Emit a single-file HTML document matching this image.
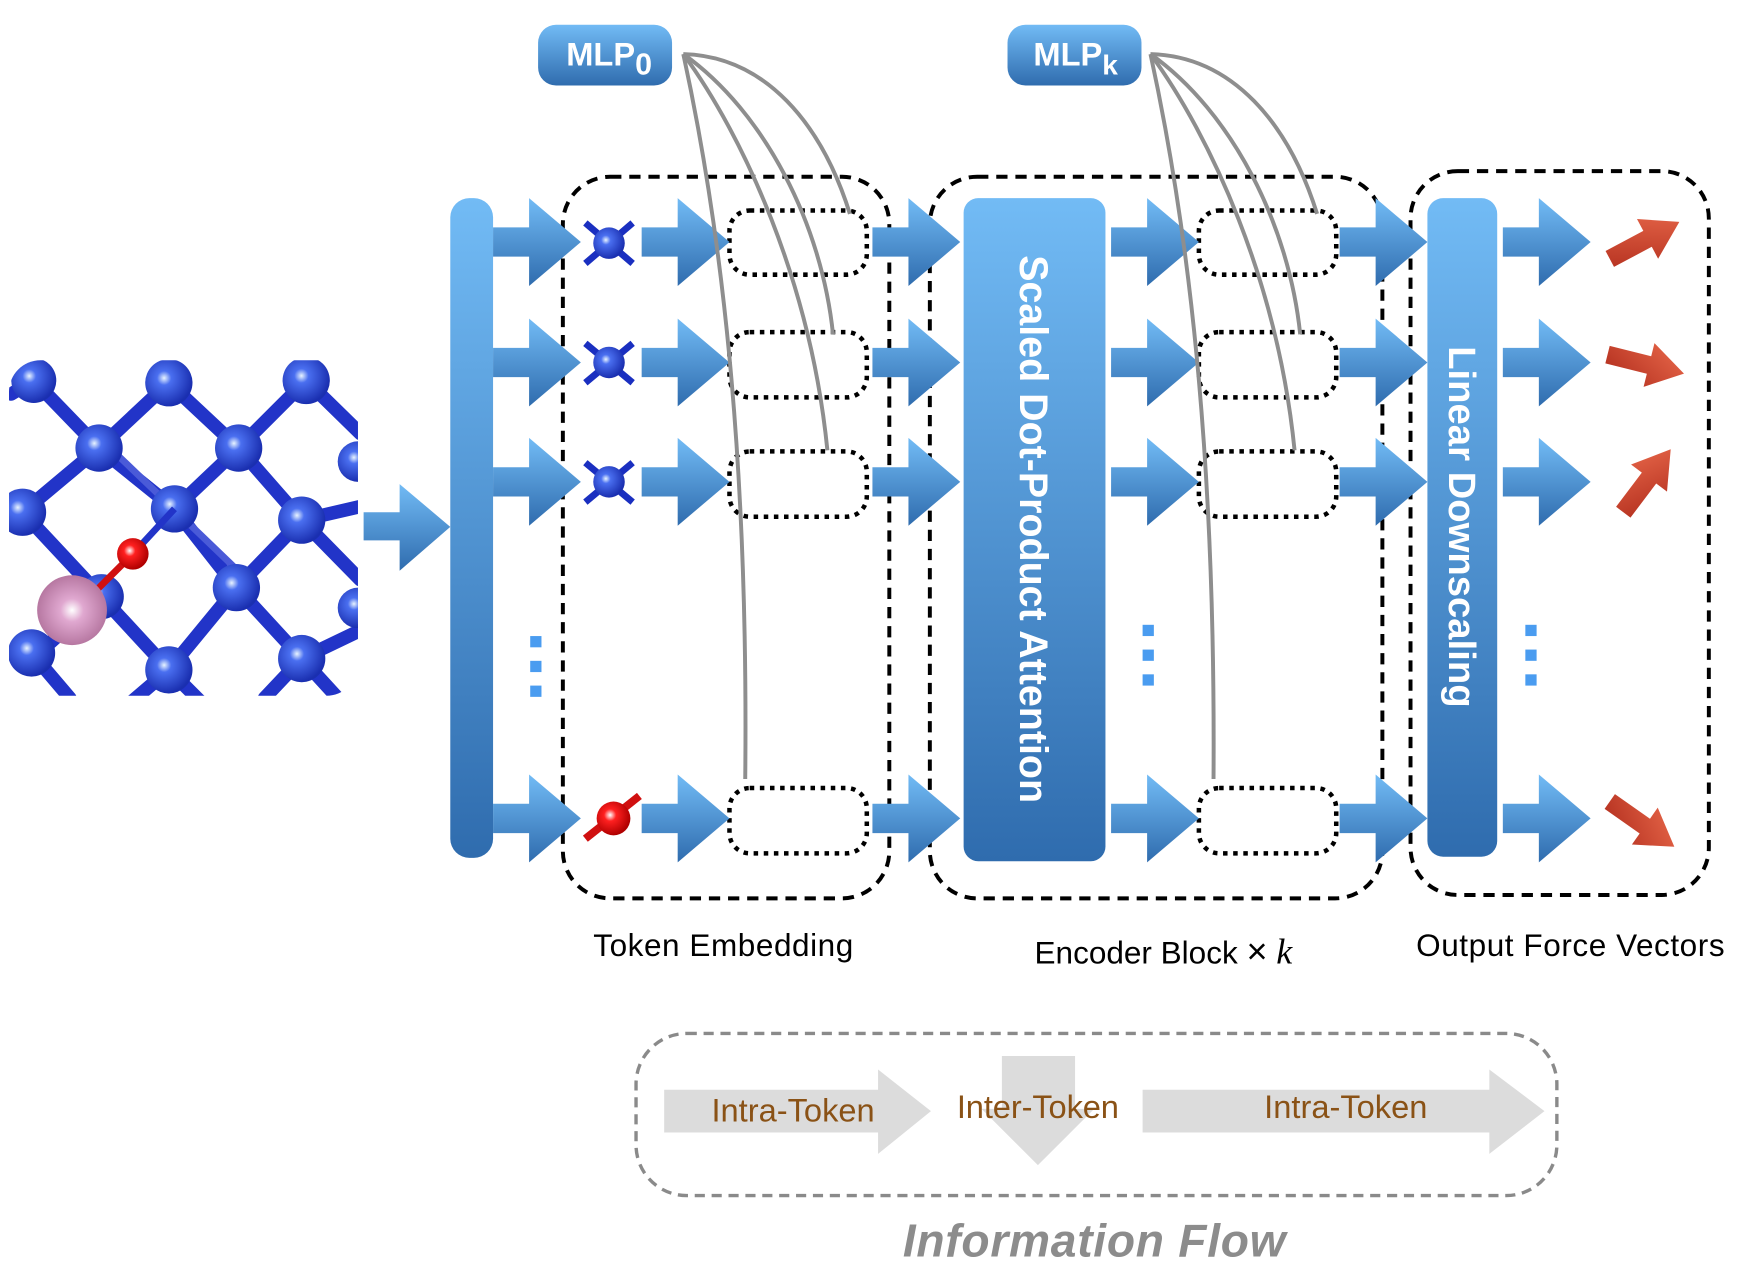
<!DOCTYPE html>
<html><head><meta charset="utf-8"><style>html,body{margin:0;padding:0;background:#fff}svg{display:block}</style></head><body>
<svg width="1764" height="1280" viewBox="0 0 1567 1137" preserveAspectRatio="none" xmlns="http://www.w3.org/2000/svg">
<defs>
<linearGradient id="bg" x1="0" y1="0" x2="0" y2="1"><stop offset="0" stop-color="#72bbf5"/><stop offset="1" stop-color="#2f6cae"/></linearGradient>
<linearGradient id="rg" x1="1" y1="0" x2="0" y2="1"><stop offset="0" stop-color="#ea6a4c"/><stop offset="1" stop-color="#b02c1c"/></linearGradient>
<radialGradient id="ab" cx="0.4" cy="0.4" r="0.6"><stop offset="0" stop-color="#e8f4ff"/><stop offset="0.25" stop-color="#4a6ff0"/><stop offset="1" stop-color="#1a2fb0"/></radialGradient>
<radialGradient id="ar" cx="0.4" cy="0.4" r="0.6"><stop offset="0" stop-color="#fff"/><stop offset="0.3" stop-color="#ff2020"/><stop offset="1" stop-color="#b00000"/></radialGradient>
<radialGradient id="ap" cx="0.5" cy="0.5" r="0.55"><stop offset="0" stop-color="#fff"/><stop offset="0.3" stop-color="#e0a8d0"/><stop offset="1" stop-color="#b0709a"/></radialGradient>
<clipPath id="cc"><rect x="8" y="320" width="310" height="298" rx="28"/></clipPath>
<symbol id="arr" viewBox="0 0 78 78" overflow="visible"><path d="M0 26 H32 V0 L78 39 L32 78 V52 H0 Z" fill="url(#bg)"/></symbol>
</defs>

<g clip-path="url(#cc)">
<g stroke="#2234c8" stroke-width="12" stroke-linecap="round">
<line x1="30" y1="338" x2="88" y2="398"/><line x1="150" y1="340" x2="88" y2="398"/><line x1="150" y1="340" x2="212" y2="398"/><line x1="272" y1="338" x2="212" y2="398"/>
<line x1="88" y1="398" x2="20" y2="455"/><line x1="88" y1="398" x2="155" y2="452"/><line x1="212" y1="398" x2="155" y2="452"/><line x1="212" y1="398" x2="268" y2="462"/>
<line x1="155" y1="452" x2="210" y2="522"/><line x1="268" y1="462" x2="210" y2="522"/><line x1="20" y1="455" x2="90" y2="530"/><line x1="90" y1="530" x2="150" y2="595"/>
<line x1="210" y1="522" x2="150" y2="595"/><line x1="210" y1="522" x2="268" y2="585"/><line x1="268" y1="462" x2="320" y2="515"/><line x1="272" y1="338" x2="320" y2="385"/>
<line x1="268" y1="585" x2="300" y2="620"/><line x1="150" y1="595" x2="180" y2="625"/><line x1="150" y1="595" x2="115" y2="625"/><line x1="28" y1="580" x2="62" y2="620"/>
<line x1="268" y1="585" x2="235" y2="620"/><line x1="320" y1="450" x2="268" y2="462"/><line x1="20" y1="455" x2="0" y2="470"/><line x1="30" y1="338" x2="10" y2="350"/>
<line x1="320" y1="560" x2="268" y2="585"/><line x1="90" y1="530" x2="40" y2="575"/>
</g>
<line x1="100" y1="400" x2="225" y2="520" stroke="#4a5ad8" stroke-width="6"/>
<g fill="url(#ab)">
<circle cx="30" cy="338" r="20"/><circle cx="150" cy="340" r="21"/><circle cx="272" cy="338" r="21"/><circle cx="88" cy="398" r="21"/><circle cx="212" cy="398" r="21"/>
<circle cx="20" cy="455" r="21"/><circle cx="155" cy="452" r="21"/><circle cx="268" cy="462" r="21"/><circle cx="210" cy="522" r="21"/><circle cx="90" cy="530" r="20"/>
<circle cx="150" cy="595" r="21"/><circle cx="268" cy="585" r="21"/><circle cx="28" cy="580" r="21"/><circle cx="318" cy="410" r="18"/><circle cx="318" cy="540" r="18"/>
</g>
<line x1="155" y1="452" x2="118" y2="492" stroke="#2234c8" stroke-width="6"/>
<line x1="118" y1="492" x2="70" y2="540" stroke="#d01010" stroke-width="6"/>
<circle cx="118" cy="492" r="14" fill="url(#ar)"/>
<circle cx="64" cy="542" r="31" fill="url(#ap)"/>
</g>

<path d="M323 455 H355 V430 L400 468 L355 507 V480 H323 Z" fill="url(#bg)"/>

<rect x="500" y="157" width="290" height="641" rx="42" fill="none" stroke="#000" stroke-width="3.5" stroke-dasharray="10,7"/>
<rect x="826" y="157" width="402" height="641" rx="42" fill="none" stroke="#000" stroke-width="3.5" stroke-dasharray="10,7"/>
<rect x="1253" y="152" width="265" height="643" rx="42" fill="none" stroke="#000" stroke-width="3.5" stroke-dasharray="10,7"/>

<rect x="400" y="176" width="38" height="586" rx="17" fill="url(#bg)"/>
<rect x="856" y="176" width="126" height="589" rx="13" fill="url(#bg)"/>
<rect x="1268" y="176" width="62" height="585" rx="14" fill="url(#bg)"/>
<text transform="translate(906,470) rotate(90)" text-anchor="middle" font-family="Liberation Sans, sans-serif" font-weight="bold" font-size="35" fill="#fff">Scaled Dot-Product Attention</text>
<text transform="translate(1287,468) rotate(90)" text-anchor="middle" font-family="Liberation Sans, sans-serif" font-weight="bold" font-size="34" fill="#fff">Linear Downscaling</text>

<g fill="none" stroke="#000" stroke-width="4" stroke-dasharray="4,5">
<rect x="648" y="187" width="122" height="57" rx="18"/><rect x="648" y="295" width="122" height="58" rx="18"/><rect x="648" y="401" width="122" height="58" rx="18"/><rect x="648" y="700" width="122" height="58" rx="18"/>
<rect x="1065" y="187" width="122" height="57" rx="18"/><rect x="1065" y="295" width="122" height="58" rx="18"/><rect x="1065" y="401" width="122" height="58" rx="18"/><rect x="1065" y="700" width="122" height="58" rx="18"/>
</g>

<g>
<use href="#arr" x="438" y="176" width="78" height="78"/><use href="#arr" x="438" y="283" width="78" height="78"/><use href="#arr" x="438" y="389" width="78" height="78"/><use href="#arr" x="438" y="688" width="78" height="78"/>
<use href="#arr" x="570" y="176" width="78" height="78"/><use href="#arr" x="570" y="283" width="78" height="78"/><use href="#arr" x="570" y="389" width="78" height="78"/><use href="#arr" x="570" y="688" width="78" height="78"/>
<use href="#arr" x="775" y="176" width="78" height="78"/><use href="#arr" x="775" y="283" width="78" height="78"/><use href="#arr" x="775" y="389" width="78" height="78"/><use href="#arr" x="775" y="688" width="78" height="78"/>
<use href="#arr" x="987" y="176" width="78" height="78"/><use href="#arr" x="987" y="283" width="78" height="78"/><use href="#arr" x="987" y="389" width="78" height="78"/><use href="#arr" x="987" y="688" width="78" height="78"/>
<use href="#arr" x="1190" y="176" width="78" height="78"/><use href="#arr" x="1190" y="283" width="78" height="78"/><use href="#arr" x="1190" y="389" width="78" height="78"/><use href="#arr" x="1190" y="688" width="78" height="78"/>
<use href="#arr" x="1335" y="176" width="78" height="78"/><use href="#arr" x="1335" y="283" width="78" height="78"/><use href="#arr" x="1335" y="389" width="78" height="78"/><use href="#arr" x="1335" y="688" width="78" height="78"/>
</g>

<g stroke="#1a2fc0" stroke-width="6">
<line x1="520" y1="198" x2="562" y2="234"/><line x1="562" y1="198" x2="520" y2="234"/>
<line x1="520" y1="305" x2="562" y2="340"/><line x1="562" y1="305" x2="520" y2="340"/>
<line x1="520" y1="411" x2="562" y2="446"/><line x1="562" y1="411" x2="520" y2="446"/>
</g>
<circle cx="541" cy="216" r="14" fill="url(#ab)"/><circle cx="541" cy="322" r="14" fill="url(#ab)"/><circle cx="541" cy="428" r="14" fill="url(#ab)"/>
<line x1="520" y1="745" x2="568" y2="707" stroke="#d01010" stroke-width="7"/>
<circle cx="545" cy="727" r="15" fill="url(#ar)"/>

<g fill="#4a9cf0">
<rect x="471" y="565" width="10" height="10"/><rect x="471" y="587" width="10" height="10"/><rect x="471" y="609" width="10" height="10"/>
<rect x="1015" y="555" width="10" height="10"/><rect x="1015" y="577" width="10" height="10"/><rect x="1015" y="599" width="10" height="10"/>
<rect x="1355" y="555" width="10" height="10"/><rect x="1355" y="577" width="10" height="10"/><rect x="1355" y="599" width="10" height="10"/>
</g>

<rect x="478" y="22" width="119" height="54" rx="16" fill="url(#bg)"/>
<text x="503" y="58" font-family="Liberation Sans, sans-serif" font-weight="bold" font-size="29" fill="#fff">MLP<tspan font-size="27" dy="8">0</tspan></text>
<rect x="895" y="22" width="119" height="54" rx="16" fill="url(#bg)"/>
<text x="918" y="58" font-family="Liberation Sans, sans-serif" font-weight="bold" font-size="29" fill="#fff">MLP<tspan font-size="25" dy="8">k</tspan></text>

<g fill="none" stroke="#8e8e8e" stroke-width="3.5">
<path d="M607 48 C640 200 665 400 662 692"/>
<path d="M607 48 C660 120 720 250 735 400"/>
<path d="M607 48 C680 100 730 200 740 297"/>
<path d="M607 48 C680 50 730 110 755 190"/>
<path d="M1022 48 C1055 200 1080 400 1078 692"/>
<path d="M1022 48 C1075 120 1135 250 1150 400"/>
<path d="M1022 48 C1095 100 1145 200 1155 297"/>
<path d="M1022 48 C1095 50 1145 110 1170 190"/>
</g>

<g fill="url(#rg)">
<path d="M0 -8 H38 V-20 L70 0 L38 20 V8 H0 Z" transform="translate(1430,230) rotate(-28)"/>
<path d="M0 -8 H38 V-20 L70 0 L38 20 V8 H0 Z" transform="translate(1428,315) rotate(14)"/>
<path d="M0 -8 H38 V-20 L70 0 L38 20 V8 H0 Z" transform="translate(1442,455) rotate(-53)"/>
<path d="M0 -8 H38 V-20 L70 0 L38 20 V8 H0 Z" transform="translate(1430,712) rotate(35)"/>
</g>

<g font-family="Liberation Sans, sans-serif" font-size="28" fill="#000">
<text x="527" y="849" textLength="231">Token Embedding</text>
<text x="919" y="856">Encoder Block <tspan font-size="32">×</tspan> <tspan font-family="Liberation Serif, serif" font-style="italic" font-size="32">k</tspan></text>
<text x="1258" y="849" textLength="274">Output Force Vectors</text>
</g>

<rect x="565" y="918" width="818" height="144" rx="45" fill="none" stroke="#8a8a8a" stroke-width="3" stroke-dasharray="9,6"/>
<path d="M590 968 H780 V950 L827 987 L780 1025 V1006 H590 Z" fill="#dcdcdc"/>
<path d="M890 938 H955 V985 H972 L922 1035 L872 985 H890 Z" fill="#dcdcdc"/>
<path d="M1015 968 H1323 V950 L1372 987 L1323 1025 V1006 H1015 Z" fill="#dcdcdc"/>
<g font-family="Liberation Sans, sans-serif" font-size="29" fill="#8a5216">
<text x="632" y="996" textLength="145">Intra-Token</text>
<text x="850" y="993" textLength="144">Inter-Token</text>
<text x="1123" y="993" textLength="145">Intra-Token</text>
</g>
<text x="802" y="1116" textLength="340" font-family="Liberation Sans, sans-serif" font-weight="bold" font-style="italic" font-size="41" fill="#8c8c8c">Information Flow</text>
</svg>
</body></html>
